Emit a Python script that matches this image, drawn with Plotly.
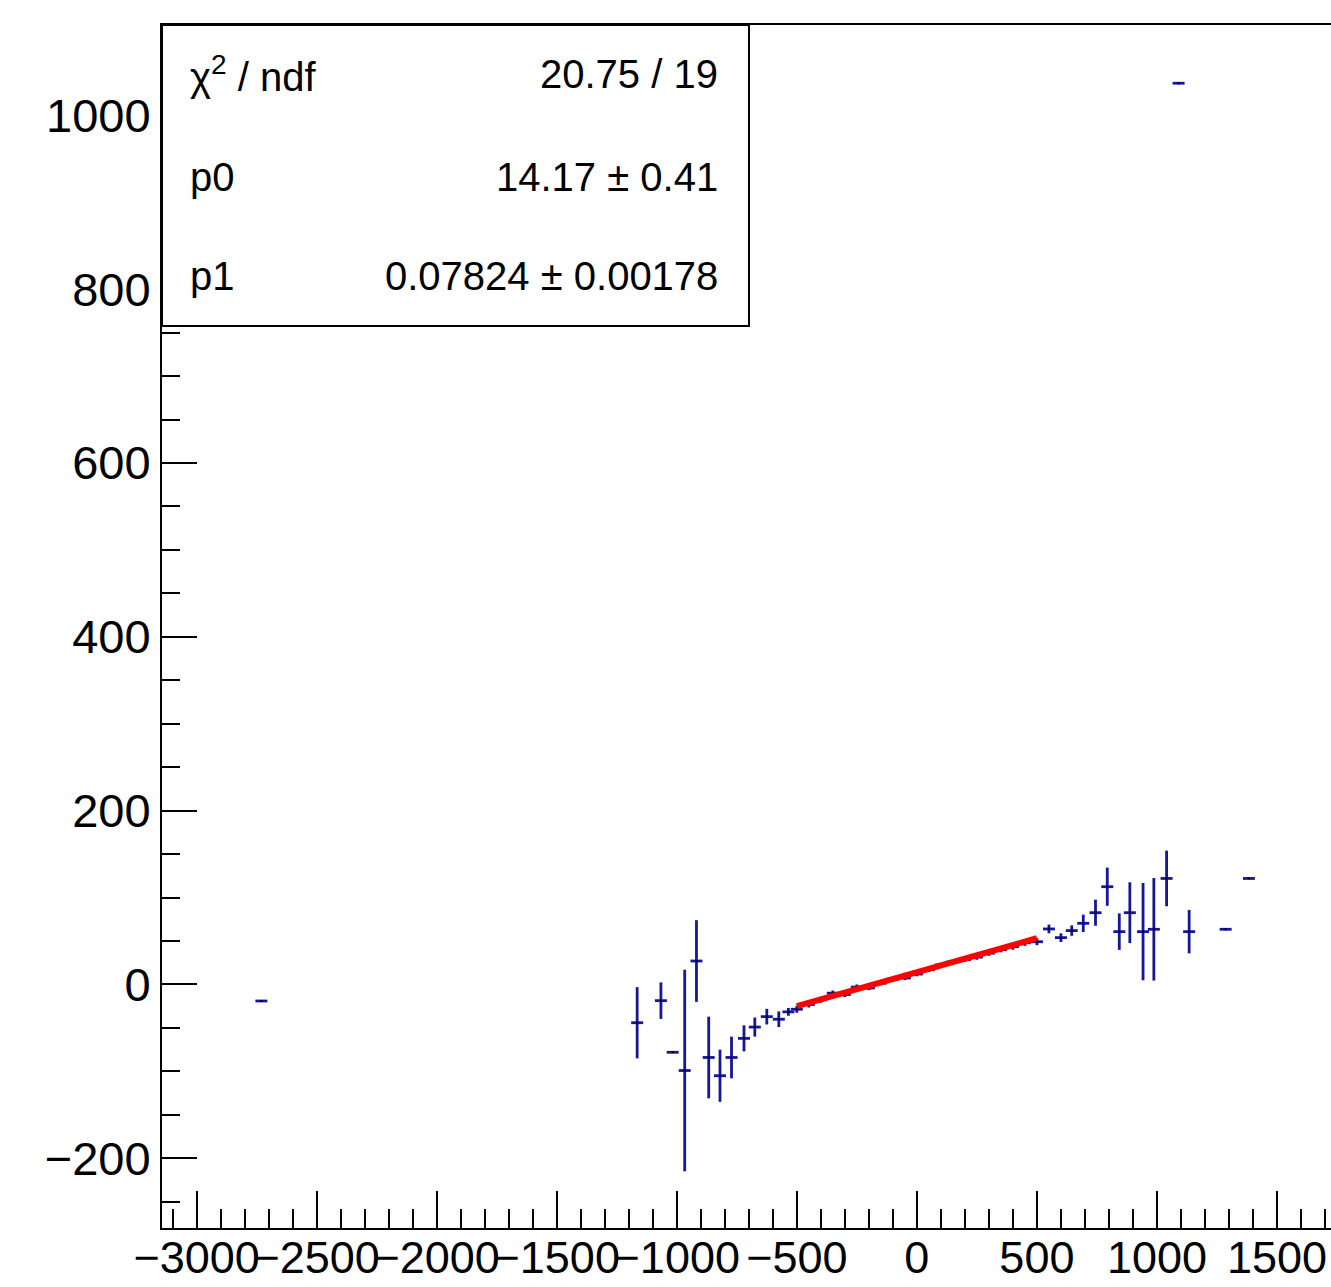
import plotly.graph_objects as go

# ---------------- data ----------------
x_left = [-2730, -1165, -1066, -1017, -967, -918, -867, -820, -772, -720, -675, -625, -575, -535]
y_left = [-19.0, -44.0, -18.6, -78.0, -99.0, 27.0, -84.0, -105.0, -84.0, -62.0, -49.0, -37.0, -40.0, -31.5]
ey_left = [0.0, 41.0, 21.0, 0.0, 116.0, 47.0, 47.0, 30.0, 24.0, 15.0, 11.0, 9.0, 9.0, 4.5]

x_mid = [-500, -450, -400, -350, -300, -250, -200, -150, -100, -50, 0,
         50, 100, 150, 200, 250, 300, 350, 400, 450, 500]
y_mid = [-28.5, -23.0, -17.5, -10.0, -11.5, -3.0, -4.0, 1.5, 6.0, 7.5, 12.0,
         17.0, 22.5, 26.0, 28.5, 31.5, 36.0, 40.0, 43.5, 48.0, 49.2]
ey_mid = [4.0, 3.5, 3.5, 3.0, 3.0, 3.0, 2.5, 2.5, 2.5, 2.5, 2.5,
          2.5, 2.5, 2.5, 2.5, 3.0, 3.0, 3.0, 3.5, 3.5, 4.0]

x_right = [550, 600, 645, 693, 744, 793, 843, 887, 942, 987, 1040, 1090, 1134, 1286, 1383]
y_right = [63.9, 53.9, 62.0, 70.4, 82.6, 112.5, 60.8, 82.6, 60.8, 63.5, 122.0, 1037.0, 60.8, 63.5, 122.0]
ey_right = [5.0, 5.0, 6.0, 10.0, 15.0, 22.0, 21.0, 35.0, 56.0, 59.0, 32.0, 0.0, 25.0, 0.0, 0.0]

bin_half_width = 25

# fit results
fit_p0 = 14.17
fit_p1 = 0.07824
fit_range = [-500, 500]
stats_rows = [("χ<sup>2</sup> / ndf", "20.75 / 19"),
              ("p0", "14.17 ± 0.41"),
              ("p1", "0.07824 ± 0.00178")]

x_ticks = [-3000, -2500, -2000, -1500, -1000, -500, 0, 500, 1000, 1500]
y_ticks = [-200, 0, 200, 400, 600, 800, 1000]

# ---------------- figure ----------------
xs = x_left + x_mid + x_right
ys = y_left + y_mid + y_right
eys = ey_left + ey_mid + ey_right
exs = [bin_half_width] * len(xs)

BLUE = "#16169c"
FONT = "Liberation Sans, Arial, Helvetica, sans-serif"

fig = go.Figure()
fig.add_trace(go.Scatter(
    x=xs, y=ys, mode="markers",
    marker=dict(symbol="square", size=2, color="#000022"),
    error_x=dict(type="data", array=exs, visible=True, width=0, thickness=2.8, color=BLUE),
    error_y=dict(type="data", array=eys, visible=True, width=0, thickness=2.8, color=BLUE),
    showlegend=False, hoverinfo="skip",
))

fit_x = fit_range
fit_y = [fit_p0 + fit_p1 * v for v in fit_x]
fig.add_trace(go.Scatter(
    x=fit_x, y=fit_y, mode="lines",
    line=dict(color="#ff0000", width=6),
    showlegend=False, hoverinfo="skip",
))

W, H = 1331, 1287
L, R, T, B = 162, 0, 25, 59
plot_w = W - L - R
plot_h = H - T - B
x0 = -3144
px_per_x = 0.2401
x1 = x0 + plot_w / px_per_x

fig.update_layout(
    width=W, height=H,
    margin=dict(l=L, r=R, t=T, b=B, pad=0, autoexpand=False),
    paper_bgcolor="white", plot_bgcolor="white",
    font=dict(family=FONT, color="black"),
    xaxis=dict(
        range=[x0, x1], showgrid=False, zeroline=False, automargin=False,
        showline=True, linecolor="black", linewidth=2, mirror=True,
        ticks="inside", ticklen=37, tickwidth=2, tickcolor="black",
        tickmode="array", tickvals=x_ticks, tickangle=0,
        ticktext=[("−" + str(abs(v))) if v < 0 else str(v) for v in x_ticks],
        tickfont=dict(size=45, family=FONT, color="black"),
        ticklabelstandoff=-11,
        minor=dict(dtick=100, tick0=0, ticks="inside", ticklen=19, tickwidth=2, tickcolor="black", showgrid=False),
    ),
    yaxis=dict(
        range=[-280.2, 1104.0], showgrid=False, zeroline=False, automargin=False,
        showline=True, linecolor="black", linewidth=2, mirror=False,
        ticks="inside", ticklen=35, tickwidth=2, tickcolor="black",
        tickmode="array", tickvals=y_ticks,
        ticktext=[("−" + str(abs(v))) if v < 0 else str(v) for v in y_ticks],
        tickfont=dict(size=47, family=FONT, color="black"),
        ticklabelstandoff=0,
        minor=dict(dtick=50, tick0=0, ticks="inside", ticklen=18, tickwidth=2, tickcolor="black", showgrid=False),
    ),
)

# stats box
box_right_px = 749
box_bottom_px = 326
bx1 = (box_right_px - L) / plot_w
by0 = 1 - (box_bottom_px - T) / plot_h
fig.add_shape(type="rect", xref="paper", yref="paper", x0=0, x1=bx1, y0=by0, y1=1,
              line=dict(color="black", width=2), fillcolor="white", layer="above")

row_px = [74, 177, 276]
for (lab, val), ry in zip(stats_rows, row_px):
    yy = 1 - (ry - T) / plot_h
    fig.add_annotation(xref="paper", yref="paper", x=(188 - L) / plot_w, y=yy,
                       text=lab, showarrow=False, xanchor="left", yanchor="middle",
                       font=dict(size=40, family=FONT, color="black"))
    fig.add_annotation(xref="paper", yref="paper", x=(720 - L) / plot_w, y=yy,
                       text=val, showarrow=False, xanchor="right", yanchor="middle",
                       font=dict(size=40, family=FONT, color="black"))

fig.write_html("out.html", config={"displayModeBar": False},
               post_script="document.body.style.margin='0';document.body.style.overflow='hidden';")
